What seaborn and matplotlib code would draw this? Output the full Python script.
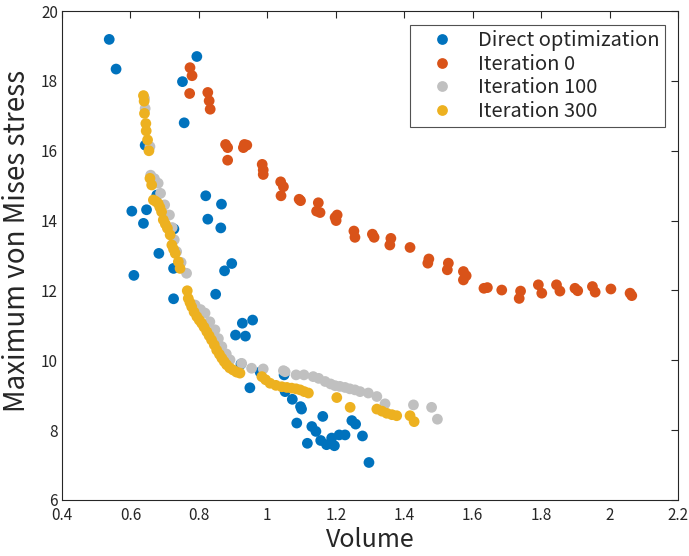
import pandas as pd
import matplotlib
matplotlib.use('Agg')
import matplotlib.pyplot as plt
import seaborn as sns

# Direct optimization
direct_x = [0.538, 0.558, 0.794, 0.752, 0.757, 0.643, 0.604, 0.647, 0.638, 0.820, 0.866, 0.826,
            0.864, 0.727, 0.683, 0.610, 0.726, 0.896, 0.875, 0.726, 0.849, 0.927, 0.957, 0.907,
            0.936, 0.923, 0.949, 0.979, 1.049, 1.052, 1.073, 1.097, 1.100, 1.086, 1.117, 1.130,
            1.142, 1.162, 1.156, 1.173, 1.188, 1.196, 1.210, 1.227, 1.247, 1.258, 1.278, 1.297, 0.677]
direct_y = [19.19, 18.34, 18.70, 17.98, 16.80, 16.16, 14.27, 14.31, 13.92, 14.71, 14.47, 14.04,
            13.79, 13.76, 13.06, 12.43, 12.63, 12.77, 12.56, 11.76, 11.89, 11.06, 11.15, 10.72,
            10.69, 9.89, 9.21, 9.66, 9.58, 9.10, 8.88, 8.67, 8.60, 8.20, 7.62, 8.10,
            7.96, 8.39, 7.70, 7.58, 7.77, 7.55, 7.86, 7.86, 8.27, 8.17, 7.83, 7.07, 14.73]

# Iteration 0
it0_x = [0.774, 0.780, 0.773, 0.826, 0.830, 0.833, 0.878, 0.884, 0.884, 0.933, 0.940, 0.930,
         0.985, 0.988, 0.988, 1.039, 1.047, 1.040, 1.093, 1.097, 1.149, 1.144, 1.154, 1.204,
         1.198, 1.201, 1.253, 1.256, 1.307, 1.312, 1.361, 1.358, 1.417, 1.472, 1.469, 1.529,
         1.526, 1.573, 1.581, 1.573, 1.633, 1.643, 1.685, 1.740, 1.736, 1.792, 1.802, 1.845,
         1.855, 1.899, 1.907, 1.950, 1.958, 2.004, 2.060, 2.065]
it0_y = [18.38, 18.15, 17.64, 17.67, 17.43, 17.19, 16.18, 16.09, 15.73, 16.18, 16.16, 16.09,
         15.61, 15.45, 15.32, 15.11, 14.97, 14.71, 14.61, 14.57, 14.51, 14.27, 14.23, 14.16,
         14.09, 14.00, 13.70, 13.52, 13.61, 13.52, 13.49, 13.30, 13.23, 12.90, 12.78, 12.78,
         12.59, 12.54, 12.42, 12.30, 12.06, 12.08, 12.01, 11.98, 11.77, 12.16, 11.92, 12.16,
         11.98, 12.06, 11.99, 12.11, 11.95, 12.04, 11.92, 11.85]

# Iteration 100
it100_x = [0.641, 0.643, 0.657, 0.659, 0.670, 0.681, 0.688, 0.700, 0.714, 0.722, 0.728, 0.735,
           0.748, 0.764, 0.789, 0.805, 0.818, 0.832, 0.847, 0.857, 0.867, 0.880, 0.891, 0.925,
           0.954, 0.988, 1.047, 1.052, 1.084, 1.107, 1.134, 1.150, 1.169, 1.185, 1.198, 1.212,
           1.227, 1.241, 1.256, 1.271, 1.295, 1.320, 1.344, 1.427, 1.480, 1.497]
it100_y = [17.50, 17.21, 16.12, 15.30, 15.20, 15.07, 14.78, 14.45, 14.16, 13.80, 13.45, 13.11,
           12.80, 12.49, 11.58, 11.45, 11.35, 11.10, 10.87, 10.62, 10.39, 10.18, 10.01, 9.91,
           9.77, 9.75, 9.70, 9.67, 9.58, 9.58, 9.53, 9.48, 9.39, 9.32, 9.27, 9.25,
           9.22, 9.18, 9.15, 9.10, 9.06, 8.96, 8.75, 8.72, 8.65, 8.31]

# Iteration 300
it300_x = [0.638, 0.640, 0.641, 0.645, 0.646, 0.650, 0.654, 0.657, 0.662, 0.667, 0.674, 0.681,
           0.686, 0.691, 0.696, 0.702, 0.708, 0.716, 0.721, 0.726, 0.731, 0.740, 0.745, 0.766,
           0.769, 0.774, 0.779, 0.786, 0.794, 0.801, 0.808, 0.815, 0.823, 0.830, 0.837, 0.845,
           0.852, 0.860, 0.867, 0.874, 0.881, 0.890, 0.900, 0.910, 0.920, 0.984, 0.995, 1.008,
           1.025, 1.042, 1.057, 1.071, 1.084, 1.096, 1.108, 1.120, 1.203, 1.242, 1.320, 1.335,
           1.349, 1.364, 1.378, 1.417, 1.429]
it300_y = [17.58, 17.42, 17.07, 16.78, 16.57, 16.31, 16.00, 15.21, 15.02, 14.59, 14.55, 14.49,
           14.38, 14.25, 14.02, 13.90, 13.78, 13.59, 13.30, 13.18, 13.06, 12.82, 12.63, 11.99,
           11.77, 11.65, 11.53, 11.38, 11.25, 11.15, 11.06, 10.95, 10.82, 10.70, 10.58, 10.44,
           10.29, 10.17, 10.06, 9.96, 9.87, 9.78, 9.72, 9.66, 9.63, 9.53, 9.44, 9.34,
           9.28, 9.24, 9.22, 9.20, 9.18, 9.15, 9.10, 9.06, 8.93, 8.65, 8.60, 8.54,
           8.48, 8.44, 8.41, 8.41, 8.24]

names = ['Direct optimization', 'Iteration 0', 'Iteration 100', 'Iteration 300']
colors = ['#0072BD', '#D95319', '#C0C0C0', '#EDB120']
xs = [direct_x, it0_x, it100_x, it300_x]
ys = [direct_y, it0_y, it100_y, it300_y]

df = pd.concat([pd.DataFrame({'Volume': x, 'Stress': y, 'Serie': n})
                for x, y, n in zip(xs, ys, names)], ignore_index=True)

sns.set_style('white')
plt.rcParams['font.family'] = ['Noto Sans CJK JP', 'DejaVu Sans']

fig = plt.figure(figsize=(6.89, 5.56), dpi=100)
ax = fig.add_axes([0.090, 0.101, 0.894, 0.879])

sns.scatterplot(data=df, x='Volume', y='Stress', hue='Serie', hue_order=names,
                palette=colors, s=60, linewidth=0, alpha=1, ax=ax)

ax.set_xlim(0.4, 2.2)
ax.set_ylim(6, 20)
ax.set_xticks([0.4, 0.6, 0.8, 1.0, 1.2, 1.4, 1.6, 1.8, 2.0, 2.2])
ax.set_xticklabels(['0.4', '0.6', '0.8', '1', '1.2', '1.4', '1.6', '1.8', '2', '2.2'])
ax.set_yticks([6, 8, 10, 12, 14, 16, 18, 20])
ax.tick_params(direction='in', top=True, right=True, length=5, width=0.8,
               labelsize=11, colors='#262626')
ax.tick_params(axis='x', pad=5)
ax.tick_params(axis='y', pad=3)
for sp in ax.spines.values():
    sp.set_color('#262626')
    sp.set_linewidth(0.8)

ax.set_xlabel('Volume', fontsize=18, color='#262626', labelpad=2)
ax.set_ylabel('Maximum von Mises stress', fontsize=20, color='#262626')
ax.yaxis.set_label_coords(-0.048, 0.53)

leg = ax.legend(loc='upper right', bbox_to_anchor=(0.979, 0.971), borderaxespad=0,
                frameon=True, fancybox=False, edgecolor='#262626', fontsize=14.5,
                handletextpad=0.45, labelspacing=0.12, markerscale=1.0, borderpad=0.25,
                handlelength=2.7)
leg.get_frame().set_linewidth(0.8)

fig.savefig('out.png', dpi=100)
